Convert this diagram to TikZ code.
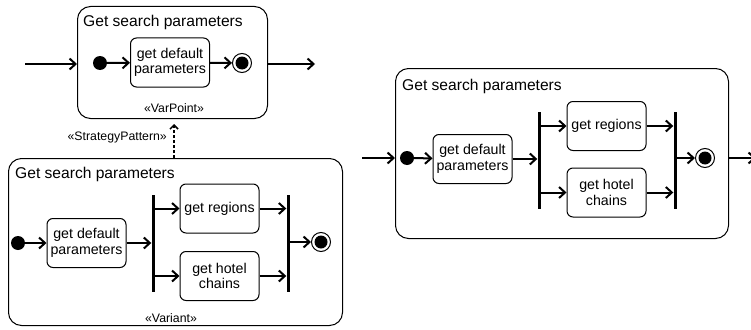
\documentclass[tikz,border=0pt]{standalone}
\usepackage{fontspec}
\setmainfont{Liberation Sans}
\usepackage{tikz}
\usetikzlibrary{positioning, calc, arrows.meta}
\tikzset{activity/.style={draw, line width=1pt, rounded corners=13pt, anchor=north west, inner sep=0pt}}
\tikzset{action/.style={draw, line width=1pt, rounded corners=6pt, minimum width=79pt, minimum height=49pt, align=center, inner sep=0pt, font=\fontsize{14.2}{15.5}\selectfont}}
\tikzset{initial/.style={circle, fill=black, minimum size=14pt, inner sep=0pt}}
\tikzset{final/.style={circle, draw, line width=1pt, minimum size=19pt, inner sep=0pt, path picture={\fill (path picture bounding box.center) circle (6.5pt);}}}
\tikzset{bar/.style={fill=black, minimum width=3pt, minimum height=97pt, inner sep=0pt}}
\tikzset{flow/.style={line width=2pt, -{Straight Barb[length=6pt,width=11pt]}}}
\tikzset{dep/.style={line width=1.5pt, dash pattern=on 3pt off 2pt, -{Straight Barb[length=4pt,width=8pt]}, shorten >=5pt}}
\tikzset{title/.style={anchor=base west, inner sep=0pt, font=\fontsize{15.6}{18}\selectfont}}
\tikzset{stereo/.style={anchor=base, inner sep=0pt, font=\fontsize{12.3}{14}\selectfont}}

\begin{document}
\begin{tikzpicture}[x=1pt, y=-1pt]

      \useasboundingbox (0,0) rectangle (751,329);

      % VARIATION POINT

      \node[activity, minimum width=190pt, minimum height=112pt] (boxA) at (77,6) {};
      \node[title] (titleA) at (83,27) {Get search parameters};
      \node[initial] (initA) at (100,63) {};
      \node[action] (actA) at (170,62.5) {get default\\parameters};
      \node[final] (finA) at (242,63) {};
      \node[stereo] (varA) at (174,112) {«VarPoint»};
      \coordinate (inA) at (25,64);
      \coordinate (outA) at (315,64);

      \draw[flow] (inA) -- (inA -| boxA.west);
      \draw[flow] (initA) -- (actA);
      \draw[flow] (actA) -- (finA);
      \draw[flow] (boxA.east |- outA) -- (outA);

      % VARIANT

      \node[activity, minimum width=334pt, minimum height=167pt] (boxB) at (8,158) {};
      \node[title] (titleB) at (15,178) {Get search parameters};
      \node[initial] (initB) at (18,243) {};
      \node[action] (actB) at (86.5,243) {get default\\parameters};
      \node[bar] (forkB) at (153,243.5) {};
      \node[action] (regB) at (219.5,208.5) {get regions};
      \node[action] (hotB) at (219.5,276) {get hotel\\chains};
      \node[bar] (joinB) at (288,243.5) {};
      \node[final] (finB) at (321,242) {};
      \node[stereo] (varB) at (171,322) {«Variant»};

      \draw[flow] (initB) -- (actB);
      \draw[flow] (actB) -- (actB -| forkB.west);
      \draw[flow] (forkB.east |- regB) -- (regB);
      \draw[flow] (forkB.east |- hotB) -- (hotB);
      \draw[flow] (regB) -- (regB -| joinB.west);
      \draw[flow] (hotB) -- (hotB -| joinB.west);
      \draw[flow] (joinB.east |- finB) -- (finB);

      % STRATEGY

      \draw[dep] (varA |- boxB.north) -- (varA |- boxA.south);
      \node[stereo, anchor=base east] (stratLabel) at (167,140) {«StrategyPattern»};

      % RESOLVED

      \node[activity, minimum width=333pt, minimum height=170pt] (boxR) at (395,68) {};
      \node[title] (titleR) at (402,90) {Get search parameters};
      \node[initial] (initR) at (407,158) {};
      \node[action] (actR) at (472.5,159) {get default\\parameters};
      \node[bar] (forkR) at (539,160) {};
      \node[action] (regR) at (606.5,126) {get regions};
      \node[action] (hotR) at (606.5,192.5) {get hotel\\chains};
      \node[bar] (joinR) at (675,160) {};
      \node[final] (finR) at (705,158) {};
      \coordinate (inR) at (362,158);
      \coordinate (outR) at (756,158);

      \draw[flow] (inR) -- (inR -| boxR.west);
      \draw[flow] (initR) -- (actR);
      \draw[flow] (actR) -- (actR -| forkR.west);
      \draw[flow] (forkR.east |- regR) -- (regR);
      \draw[flow] (forkR.east |- hotR) -- (hotR);
      \draw[flow] (regR) -- (regR -| joinR.west);
      \draw[flow] (hotR) -- (hotR -| joinR.west);
      \draw[flow] (joinR.east |- finR) -- (finR);
      \draw[flow] (boxR.east |- outR) -- (outR);

    \end{tikzpicture}
\end{document}
